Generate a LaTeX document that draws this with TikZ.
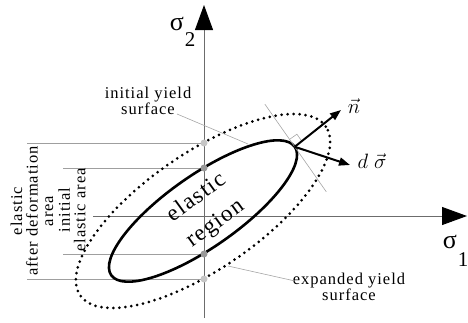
\documentclass[tikz,border=0pt]{standalone}
\usepackage{fontspec}
\setmainfont{Liberation Serif}
\newfontfamily\lblfont[LetterSpace=6]{Liberation Serif}
\usetikzlibrary{arrows.meta,calc}
\begin{document}
\begin{tikzpicture}[x=1pt,y=-1pt,
  axisline/.style={draw=gray!85!black, line width=0.9pt},
  guide/.style={draw=gray!75, line width=0.8pt},
  leader/.style={draw=gray!70, line width=0.6pt},
  lbl/.style={font=\fontsize{16.5}{15.5}\selectfont\lblfont, align=center, inner sep=0pt},
  biglbl/.style={font=\fontsize{23}{32}\selectfont\lblfont, align=center, inner sep=0pt},
  sig/.style={font=\fontsize{26}{26}\selectfont, inner sep=0pt},
  sub/.style={font=\fontsize{21}{21}\selectfont, inner sep=0pt},
  vecarrow/.style={line width=2pt, -{Triangle[length=11pt,width=8pt]}},
  dotmark/.style={circle, inner sep=0pt, minimum size=7pt},
  yieldin/.style={line width=2.6pt},
  yieldout/.style={line width=3pt, dash pattern=on 0pt off 6pt, line cap=round},
]
\useasboundingbox (0,0) rectangle (468,322);
\coordinate (O) at (203,211);
% axes
\coordinate (xs) at (93,216);
\coordinate (xe) at (467,216);
\coordinate (ys) at (204,318);
\coordinate (ye) at (204,5);
\draw[axisline, -{Triangle[length=25pt,width=18pt,color=black]}] (xs) -- (xe);
\draw[axisline, -{Triangle[length=25pt,width=18pt,color=black]}] (ys) -- (ye);
% guide lines
\coordinate (g1) at (27,143);
\coordinate (g2) at (63,168);
\coordinate (g3) at (63,254);
\coordinate (g4) at (27,279);
\coordinate (a1) at (204,143);
\coordinate (a2) at (204,168);
\coordinate (a3) at (204,254);
\coordinate (a4) at (204,279);
\draw[guide] (g1) -- (a1);
\draw[guide] (g2) -- (a2);
\draw[guide] (g3) -- (a3);
\draw[guide] (g4) -- (a4);
% ellipses
\draw[yieldout, rotate around={34.5:(O)}] (O) ellipse [x radius=149pt, y radius=58pt];
\draw[yieldin, rotate around={35:(O)}] (O) ellipse [x radius=112pt, y radius=36pt];
% dots on axis
\node[dotmark, fill=gray!45] (d1) at (a1) {};
\node[dotmark, fill=gray!80] (d2) at (a2) {};
\node[dotmark, fill=gray!80] (d3) at (a3) {};
\node[dotmark, fill=gray!45] (d4) at (a4) {};
% tangent and normal
\coordinate (P) at (294.7,146.8);
\coordinate (t1) at (264.9,104.2);
\coordinate (t2) at (326.3,191.8);
\draw[draw=gray!70, line width=0.6pt] (t1) -- (t2);
\coordinate (ra) at (289.5,139.4);
\coordinate (rb) at (296.9,134.2);
\coordinate (rc) at (302.1,141.6);
\draw[draw=gray!70, line width=0.6pt] (ra) -- (rb) -- (rc);
\coordinate (nend) at (341,110);
\coordinate (send) at (350,165);
\draw[vecarrow] (P) -- (nend);
\draw[vecarrow] (P) -- (send);
\node[font=\fontsize{21}{21}\selectfont, inner sep=0pt] (nlab) at (354,106) {$\vec{n}$};
\node[font=\fontsize{21}{21}\selectfont, inner sep=0pt] (slab) at (372,161) {$d\;\vec{\sigma}$};
% axis labels
\node[sig] (s2) at (177,24) {σ};
\node[sub] (s2i) at (190,40) {2};
\node[sig] (s1) at (450,242) {σ};
\node[sub] (s1i) at (463,260) {1};
% labels with leaders
\node[lbl] (iys) at (148,101) {initial yield\\surface};
\coordinate (iyp) at (248,144);
\draw[leader] (177,114) -- (iyp);
\node[lbl] (eys) at (349,287) {expanded yield\\surface};
\coordinate (eyp) at (228,266);
\draw[leader] (295,281) -- (eyp);
% region text
\node[biglbl, rotate=36] (reg) at (206,211) {elastic\\region};
% left labels
\node[lbl, rotate=90] (ead) at (32,211) {elastic\\after deformation\\area};
\node[lbl, rotate=90] (iea) at (72,210) {initial\\elastic area};
\end{tikzpicture}
\end{document}
